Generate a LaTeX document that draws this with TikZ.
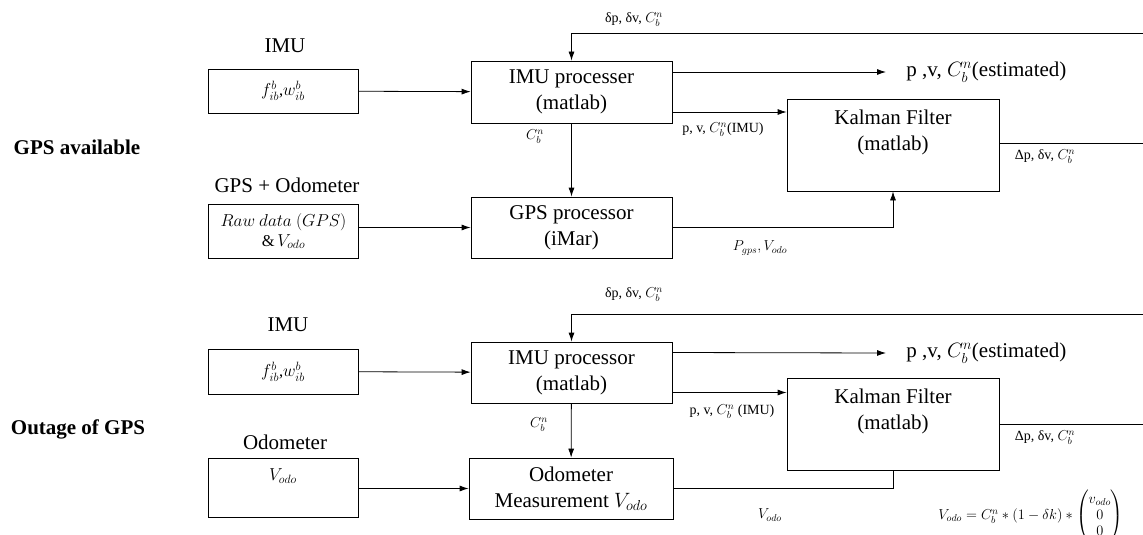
\documentclass[tikz,border=0pt]{standalone}
\usepackage{fontspec}
\setmainfont{Liberation Serif}
\usepackage{amsmath}
\usetikzlibrary{arrows.meta}

\begin{document}
\begin{tikzpicture}[
  x=1pt, y=-1pt,
  line width=0.8pt,
  every node/.style={inner sep=1pt},
  box/.style={draw, align=center, font=\fontsize{21}{26}\selectfont},
  srcbox/.style={draw, minimum width=150pt, align=center, font=\fontsize{16.5}{20}\selectfont},
  boxtext/.style={align=center, font=\fontsize{21}{26}\selectfont},
  title/.style={font=\fontsize{21}{24}\selectfont},
  mode/.style={font=\bfseries\fontsize{21}{24}\selectfont},
  note/.style={font=\fontsize{14}{16}\selectfont},
  arr/.style={-{Latex[length=9pt,width=6pt]}}
]
  \useasboundingbox (0,0) rectangle (1143,535);

  % GPS available
  \node[mode] (modeA) at (77,147) {GPS available};
  \node[title] (imuAtitle) at (285,46) {IMU};
  \node[srcbox, minimum height=44pt] (imuA) at (283,91) {$f_{ib}^b$,$w_{ib}^b$};
  \node[title] (gpsAtitle) at (287,185) {GPS + Odometer};
  \node[srcbox, minimum height=54pt] (gpsA) at (283.5,231) {$Raw\ data\ (GPS)$\\\&\,$V_{odo}$};
  \node[box, minimum width=201pt, minimum height=62pt] (imuprocA) at (571.5,92) {IMU processer\\(matlab)};
  \node[box, minimum width=201pt, minimum height=61pt] (gpsprocA) at (571.5,227.5) {GPS processor\\(iMar)};
  \node[box, minimum width=212pt, minimum height=92pt] (kfA) at (893,145) {};
  \node[boxtext, anchor=north] (kfAtxt) at ([yshift=-10pt]kfA.north) {Kalman Filter\\(matlab)};
  \node[title, anchor=west, inner xsep=20pt] (estA) at (886,72) {p ,v, $C_b^n$(estimated)};
  \coordinate (fbA) at (1143,33);
  \coordinate (kfoutA) at (1143,143);

  \draw[arr] (imuA) -- (imuprocA);
  \draw[arr] (gpsA.east |- gpsprocA) -- (gpsprocA);
  \draw[arr] (imuprocA) -- (gpsprocA);
  \draw[arr] (fbA) -| (imuprocA.north);
  \draw[arr] ([yshift=20pt]imuprocA.east) -- (estA.west);
  \draw[arr] ([yshift=-20pt]imuprocA.east) -- ([yshift=-20pt]imuprocA.east -| kfA.west);
  \draw (kfA.east |- kfoutA) -- (kfoutA);
  \draw[arr] (gpsprocA.east) -| (kfA.south);

  \node[note] (fbAlbl) at (634,20) {δp, δv, $C_b^n$};
  \node[note] (cbnA) at (535,137) {$C_b^n$};
  \node[note] (imuAlbl) at (723,130) {p, v, $C_b^n$(IMU)};
  \node[note] (kfAlbl) at (1045,157) {Δp, δv, $C_b^n$};
  \node[note] (gpsAlbl) at (760,248) {$P_{gps}, V_{odo}$};

  % Outage of GPS
  \node[mode] (modeB) at (78,429) {Outage of GPS};
  \node[title] (imuBtitle) at (288,325) {IMU};
  \node[srcbox, minimum height=45pt] (imuB) at (283,371.5) {$f_{ib}^b$,$w_{ib}^b$};
  \node[title] (odoBtitle) at (285,442) {Odometer};
  \node[srcbox, minimum height=59pt] (odoB) at (283,487.5) {};
  \node[font=\fontsize{16.5}{20}\selectfont, anchor=north] (odoBtxt) at ([yshift=-10pt]odoB.north) {$V_{odo}$};
  \node[box, minimum width=201pt, minimum height=61pt] (imuprocB) at (571.5,372.5) {IMU processor\\(matlab)};
  \node[box, minimum width=204pt, minimum height=61pt] (odomeasB) at (571,488.5) {Odometer\\Measurement $V_{odo}$};
  \node[box, minimum width=212pt, minimum height=92pt] (kfB) at (893,424) {};
  \node[boxtext, anchor=north] (kfBtxt) at ([yshift=-10pt]kfB.north) {Kalman Filter\\(matlab)};
  \node[title, anchor=west, inner xsep=20pt] (estB) at (886,353) {p ,v, $C_b^n$(estimated)};
  \coordinate (fbB) at (1143,314);
  \coordinate (kfoutB) at (1143,424);

  \draw[arr] (imuB) -- (imuprocB);
  \draw[arr] (odoB.east |- odomeasB) -- (odomeasB);
  \draw[arr] (imuprocB) -- (odomeasB);
  \draw[arr] (fbB) -| (imuprocB.north);
  \draw[arr] ([yshift=20pt]imuprocB.east) -- (estB.west);
  \draw[arr] ([yshift=-20pt]imuprocB.east) -- ([yshift=-20pt]imuprocB.east -| kfB.west);
  \draw (kfB.east) -- (kfoutB);
  \draw (odomeasB.east) -| (kfB.south);

  \node[note] (fbBlbl) at (634,295) {δp, δv, $C_b^n$};
  \node[note] (cbnB) at (539,425) {$C_b^n$};
  \node[note] (imuBlbl) at (732,412) {p, v, $C_b^n$ (IMU)};
  \node[note] (kfBlbl) at (1045,438) {Δp, δv, $C_b^n$};
  \node[note] (odoBlbl) at (770,515) {$V_{odo}$};
  \node[note] (formulaB) at (1031,516) {$V_{odo}={}C_b^n \ast (1-\delta k)\ast\begin{pmatrix} v_{odo}\\ 0\\ 0\end{pmatrix}$};
\end{tikzpicture}
\end{document}
